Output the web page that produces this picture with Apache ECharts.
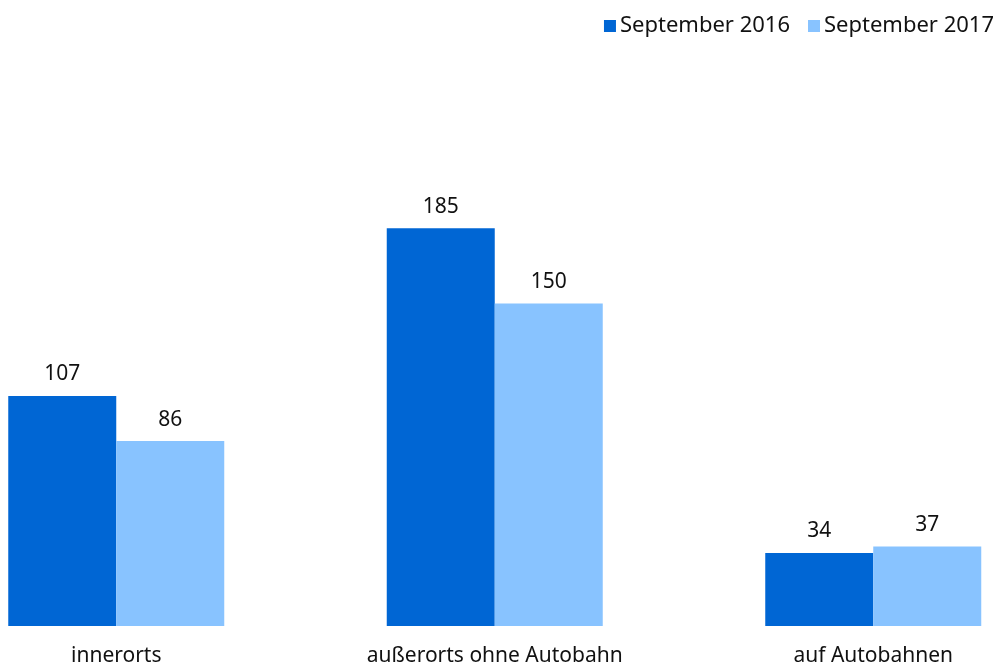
<!DOCTYPE html>
<html><head><meta charset="utf-8">
<script src="https://cdn.jsdelivr.net/npm/echarts@6/dist/echarts.min.js"></script>
<style>html,body{margin:0;padding:0;background:#fff}#c{width:1006px;height:668px}</style>
</head><body><div id="c"></div>
<script>
const categories = ["innerorts", "außerorts ohne Autobahn", "auf Autobahnen"];
const seriesNames = ["September 2016", "September 2017"];
const values2016 = [107, 185, 34];
const values2017 = [86, 150, 37];
const colors = ["#0066D4", "#88C3FF"];
const font = "'Noto Sans', sans-serif";
const chart = echarts.init(document.getElementById('c'), null, {renderer: 'canvas'});
chart.setOption({
  animation: false,
  color: colors,
  legend: {
    top: 10, right: 7, itemWidth: 12, itemHeight: 12, itemGap: 18,
    icon: 'rect',
    textStyle: {fontFamily: font, fontSize: 22, color: '#111', padding: [0,0,0,-1]},
    data: seriesNames
  },
  grid: {left: -73, right: -56.5, top: 196, bottom: 42, containLabel: false, outerBoundsMode: 'none'},
  xAxis: {
    type: 'category', data: categories,
    axisLine: {show: false}, axisTick: {show: false},
    axisLabel: {fontFamily: font, fontSize: 21, color: '#111', margin: 20, interval: 0}
  },
  yAxis: {type: 'value', min: 0, max: 200, show: false, splitLine: {show: false}},
  series: [
    {name: seriesNames[0], type: 'bar', data: values2016, barWidth: 108, barGap: '0%',
     label: {show: true, position: 'top', distance: 11, fontFamily: font, fontSize: 21, color: '#111'}},
    {name: seriesNames[1], type: 'bar', data: values2017, barWidth: 108, barGap: '0%',
     label: {show: true, position: 'top', distance: 11, fontFamily: font, fontSize: 21, color: '#111'}}
  ]
});
</script></body></html>
